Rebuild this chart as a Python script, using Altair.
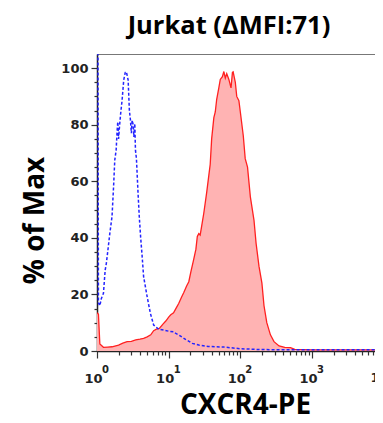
import altair as alt
import pandas as pd

# CXCR4-PE stained sample (red filled histogram): intensity, % of max
red_x = [1.00, 1.047, 1.096, 1.23, 1.41, 1.62, 2.00, 2.29, 2.63, 3.02, 3.47, 3.98, 4.47, 5.01,
         5.62, 6.17, 6.76, 7.41, 8.32, 9.12, 10.0, 10.7, 11.7, 12.6, 13.8, 15.1, 16.2, 17.8,
         19.1, 20.4, 22.4, 24.0, 25.1, 26.3, 27.5, 28.8, 30.9, 33.9, 36.3, 38.0, 39.8, 42.7,
         44.7, 46.8, 50.1, 52.5, 56.2, 58.9, 61.7, 64.6, 69.2, 74.1, 77.6, 79.4, 85.1, 89.1,
         95.5, 100, 110, 117, 126, 138, 155, 166, 182, 200, 214, 234, 263, 295, 347, 417, 501,
         575, 1000, 3160, 8900]
red_y = [13.5, 13.0, 2.5, 1.3, 1.4, 1.5, 2.1, 2.8, 3.3, 3.4, 3.9, 4.2, 4.5, 5.0,
         5.7, 7.2, 7.7, 8.0, 9.5, 10.6, 12.0, 12.8, 13.5, 15.0, 16.8, 19.0, 20.6, 23.0,
         24.5, 28.0, 32.5, 36.0, 40.5, 41.5, 41.0, 44.0, 48.7, 56.0, 62.0, 66.0, 75.0, 82.5,
         84.5, 89.0, 93.0, 96.0, 97.0, 98.8, 96.5, 98.0, 96.0, 93.0, 98.5, 98.7, 95.0, 90.0,
         88.5, 84.5, 76.0, 68.0, 65.0, 54.5, 46.3, 38.0, 30.0, 24.0, 16.0, 10.0, 5.7, 3.3, 1.8, 1.3, 1.2,
         0.6, 0.4, 0.4, 0.4]

# Isotype control (blue dashed line)
blue_x = [1.00, 1.028, 1.047, 1.096, 1.148, 1.23, 1.30, 1.35, 1.41, 1.51, 1.62, 1.71, 1.77,
          1.85, 1.91, 1.95, 2.00, 2.07, 2.14, 2.24, 2.36, 2.48, 2.57, 2.72, 2.83, 2.92, 3.02,
          3.09, 3.20, 3.27, 3.37, 3.44, 3.55, 3.74, 3.89, 4.07, 4.27, 4.47, 5.01, 5.56, 6.17,
          7.24, 8.51, 10.0, 11.7, 12.6, 13.8, 17.2, 21.4, 26.3, 35.5, 58.9, 100, 200, 1000, 8900]
blue_y = [130, 130, 17, 16, 18.5, 20.4, 28.6, 31, 35, 41.6, 47.5, 59, 67.5,
          71, 78, 81, 75, 80, 84, 88.7, 95.8, 98.5, 98.7, 95.8, 85, 82, 77,
          81.6, 80, 75.7, 80.4, 71, 68, 55.7, 47.5, 40, 33.3, 26.3, 19.2, 13.3, 9.2,
          7.7, 7.4, 7.0, 6.8, 6.2, 5.7, 4.1, 2.7, 2.1, 1.6, 1.4, 0.8, 0.5, 0.4, 0.4]

x_major = [1, 10, 100, 1000]
x_edge = [10000]
x_exp = [1, 10, 100, 1000, 10000]
exp_text = ["0", "1", "2", "3", "4"]
x_minor = [2, 3, 4, 5, 6, 7, 8, 9, 20, 30, 40, 50, 60, 70, 80, 90,
           200, 300, 400, 500, 600, 700, 800, 900, 2000, 3000, 4000, 5000, 6000, 7000]
y_major = [0, 20, 40, 60, 80, 100]
y_minor = [5, 10, 15, 25, 30, 35, 45, 50, 55, 65, 70, 75, 85, 90, 95]

W, H = 278, 297

red = pd.DataFrame({"x": red_x, "y": red_y})
blue = pd.DataFrame({"x": blue_x, "y": blue_y})
edge = pd.DataFrame({"x": x_edge, "t": ["10"]})
exps = pd.DataFrame({"x": x_exp, "t": exp_text})

xscale = alt.Scale(type="log", domain=[1, 7570], nice=False)
yscale = alt.Scale(domain=[0, 105], nice=False)

x_axis_major = alt.Axis(values=x_major, labelExpr="'10'", tickSize=7, orient="bottom",
                        title="CXCR4-PE", titleFont="Open Sans", titleFontSize=28,
                        titleFontWeight="bold", titleColor="#000", titleX=148, titleY=62,
                        titleBaseline="alphabetic", titleAlign="center",
                        labelPadding=14, labelOffset=-4, labelFlush=False, labelOverlap=False,
                        labelFontSize=13, grid=False)
y_axis_major = alt.Axis(values=y_major, tickSize=6, orient="left",
                        title="% of Max", titleFont="Open Sans", titleFontSize=28,
                        titleFontWeight="bold", titleColor="#000", titleX=-54, titleY=166,
                        titleBaseline="alphabetic", titleAlign="center", titleAngle=-90,
                        labelPadding=3, labelFlush=False, grid=False)
x_axis_minor = alt.Axis(values=x_minor, tickSize=4, labels=False, domain=False, orient="bottom",
                        title=None, grid=False)
y_axis_minor = alt.Axis(values=y_minor, tickSize=3, labels=False, domain=False, orient="left",
                        title=None, grid=False)

area = alt.Chart(red).mark_area(color="#ffb3b3", opacity=1, clip=True, interpolate="linear").encode(
    x=alt.X("x:Q", scale=xscale, axis=x_axis_major),
    y=alt.Y("y:Q", scale=yscale, axis=y_axis_major),
)
red_line = alt.Chart(red).mark_line(color="#ff2020", strokeWidth=1.3, clip=True).encode(
    x=alt.X("x:Q", scale=xscale, axis=x_axis_minor),
    y=alt.Y("y:Q", scale=yscale, axis=y_axis_minor),
)
blue_line = alt.Chart(blue).mark_line(color="#2424ff", strokeWidth=1.5, strokeDash=[3, 2],
                                      clip=True).encode(
    x=alt.X("x:Q", scale=xscale, axis=None),
    y=alt.Y("y:Q", scale=yscale, axis=None),
)
edge_label = alt.Chart(edge).mark_text(font="DejaVu Sans", fontWeight="bold", fontSize=13,
                                       color="#222", baseline="top", align="center", dx=-4).encode(
    x=alt.X("x:Q", scale=xscale, axis=None),
    y=alt.value(H + 21),
    text="t:N",
)
exp_label = alt.Chart(exps).mark_text(font="DejaVu Sans", fontWeight="bold", fontSize=10,
                                      color="#222", baseline="top", align="left", dx=5).encode(
    x=alt.X("x:Q", scale=xscale, axis=None),
    y=alt.value(H + 14),
    text="t:N",
)

chart = alt.layer(area, red_line, blue_line, edge_label, exp_label).resolve_axis(
    x="independent", y="independent"
).properties(
    width=W,
    height=H,
    title=alt.TitleParams("Jurkat (ΔMFI:71)", font="Open Sans", fontSize=25.5, fontWeight="bold",
                          color="#000", anchor="middle", dx=-7, offset=15),
    autosize=alt.AutoSizeParams(type="none"),
    padding={"left": 89, "top": 46, "right": 0, "bottom": 64},
).configure_view(
    stroke="#777", strokeWidth=1
).configure_axis(
    labelFont="DejaVu Sans", labelFontWeight="bold", labelFontSize=13, labelColor="#222",
    tickColor="#333", tickWidth=1.2, domainColor="#222", domainWidth=1.5
)

chart.save("out.html", embed_options={"renderer": "svg", "actions": False})
